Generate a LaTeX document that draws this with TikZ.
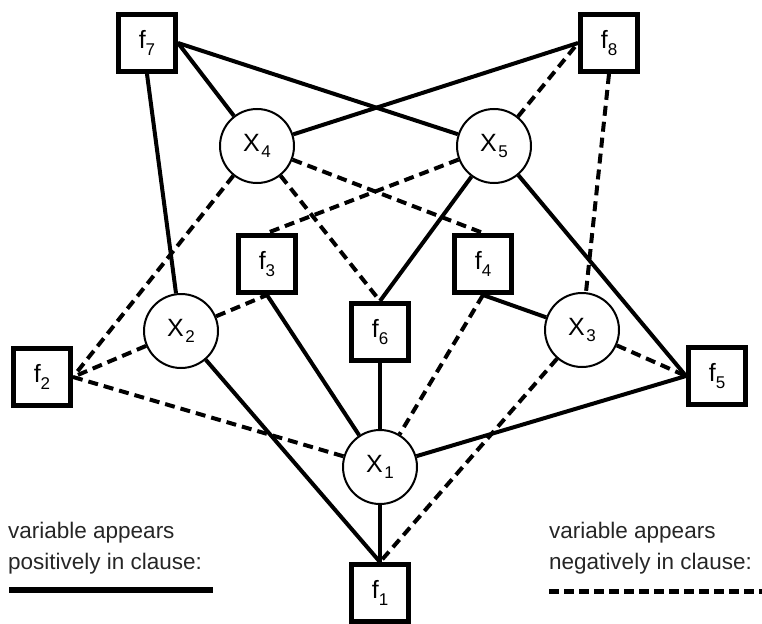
\documentclass[tikz,border=0pt]{standalone}
\usepackage{fontspec}
\setmainfont{Liberation Sans}
\newcommand\fsub[2]{#1\raisebox{-7pt}{\fontsize{17}{19}\selectfont #2}}
\newcommand\xsub[2]{#1\kern1.5pt\raisebox{-6pt}{\fontsize{17}{19}\selectfont #2}}
\begin{document}
\begin{tikzpicture}[x=1pt,y=-1pt,
  fac/.style={draw, line width=5pt, minimum size=57pt, inner sep=0pt, fill=white,
    font=\fontsize{25}{29}\selectfont},
  var/.style={draw, circle, line width=2pt, minimum size=74pt, inner sep=0pt, fill=white,
    font=\fontsize{25}{29}\selectfont},
  posedge/.style={line width=4pt},
  negedge/.style={line width=4pt, dash pattern=on 10pt off 6pt},
  legtext/.style={anchor=base west, inner sep=0pt, font=\fontsize{22.5}{26}\selectfont, text=black!85}]
\useasboundingbox (0,0) rectangle (762,623);
% factor nodes
\node[fac] (f7) at (147,43) {\fsub{f}{7}};
\node[fac] (f8) at (609,43) {\fsub{f}{8}};
\node[fac] (f3) at (267,264) {\fsub{f}{3}};
\node[fac] (f4) at (483,264) {\fsub{f}{4}};
\node[fac] (f6) at (380,332) {\fsub{f}{6}};
\node[fac] (f2) at (42,377) {\fsub{f}{2}};
\node[fac] (f5) at (717,376) {\fsub{f}{5}};
\node[fac] (f1) at (380,593) {\fsub{f}{1}};
% variable nodes
\node[var] (X4) at (257,146) {\xsub{X}{4}};
\node[var] (X5) at (494,146) {\xsub{X}{5}};
\node[var] (X2) at (181,331) {\xsub{X}{2}};
\node[var] (X3) at (582,330) {\xsub{X}{3}};
\node[var] (X1) at (380,467) {\xsub{X}{1}};
% positive edges
\draw[posedge] (f7.east) -- (X4);
\draw[posedge] (f7.east) -- (X5);
\draw[posedge] (f7.south) -- (X2);
\draw[posedge] (X4) -- (f8.west);
\draw[posedge] (X5) -- (f6.north);
\draw[posedge] (X5) -- (f5.west);
\draw[posedge] (f3.south) -- (X1);
\draw[posedge] (f6.south) -- (X1);
\draw[posedge] (f4.south) -- (X3);
\draw[posedge] (X2) -- (f1.north);
\draw[posedge] (X1) -- (f1.north);
\draw[posedge] (X1) -- (f5.west);
% negative edges
\draw[negedge] (X4) -- (f2.east);
\draw[negedge] (X4) -- (f6.north);
\draw[negedge] (X4) -- (f4.north);
\draw[negedge] (X5) -- (f3.north);
\draw[negedge] (X5) -- (f8.west);
\draw[negedge] (f8.south) -- (X3);
\draw[negedge] (X2) -- (f2.east);
\draw[negedge] (X2) -- (f3.south);
\draw[negedge] (f2.east) -- (X1);
\draw[negedge] (f4.south) -- (X1);
\draw[negedge] (X3) -- (f1.north);
\draw[negedge] (X3) -- (f5.west);
% legend
\node[legtext] (lp1) at (8,538) {variable appears};
\node[legtext] (lp2) at (8,569) {positively in clause:};
\node[legtext] (ln1) at (549,538) {variable appears};
\node[legtext] (ln2) at (549,569) {negatively in clause:};
\coordinate (ps) at (9,590);
\coordinate (pe) at (213,590);
\coordinate (ns) at (549,591);
\coordinate (ne) at (762,591);
\draw[line width=5.5pt] (ps) -- (pe);
\draw[line width=5pt, dash pattern=on 10pt off 5pt] (ns) -- (ne);
\end{tikzpicture}
\end{document}
